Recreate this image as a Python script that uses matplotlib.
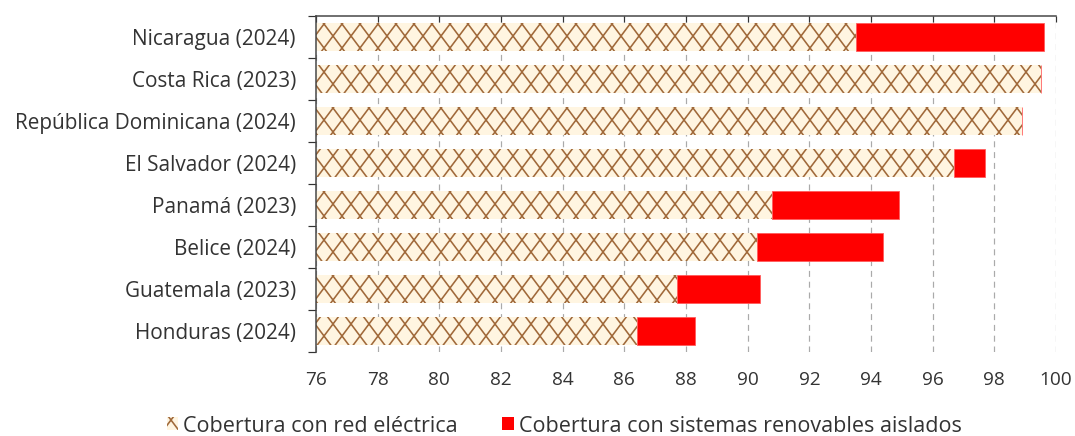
import matplotlib
matplotlib.use('Agg')
import matplotlib.pyplot as plt
import matplotlib.hatch as mhatch
from matplotlib.path import Path
from matplotlib.patches import Patch
import numpy as np

paises = ['Nicaragua (2024)', 'Costa Rica (2023)', 'República Dominicana (2024)',
          'El Salvador (2024)', 'Panamá (2023)', 'Belice (2024)',
          'Guatemala (2023)', 'Honduras (2024)']
red_electrica = [93.5, 99.5, 98.9, 96.7, 90.8, 90.3, 87.7, 86.4]
renovables_aislados = [6.1, 0.0, 0.0, 1.0, 4.1, 4.1, 2.7, 1.9]
xticks = list(range(76, 101, 2))


# rombos algo mas altos que anchos (patron tipo Excel); reemplaza a la 'x' estandar
class RomboHatch(mhatch.HatchPatternBase):
    def __init__(self, hatch, density):
        self.on = hatch.count('x') > 0
        self.offsets = np.arange(-0.75, 1.01, 0.25)
        self.num_vertices = len(self.offsets) * 4 if self.on else 0

    def set_vertices_and_codes(self, vertices, codes):
        v = []
        for x0 in self.offsets:
            v += [(x0, 0.0), (x0 + 0.75, 1.0), (x0, 1.0), (x0 + 0.75, 0.0)]
        vertices[:] = np.array(v)
        codes[0::2] = Path.MOVETO
        codes[1::2] = Path.LINETO


mhatch._hatch_types = [t for t in mhatch._hatch_types
                       if t not in (mhatch.NorthEastHatch, mhatch.SouthEastHatch)] + [RomboHatch]

plt.rcParams['font.family'] = ['Open Sans', 'DejaVu Sans']
plt.rcParams['hatch.linewidth'] = 1.6

fig = plt.figure(figsize=(1075 / 72, 436 / 72), dpi=72)
ax = fig.add_axes([316 / 1075, 1 - 352 / 436, 740 / 1075, 336 / 436])

y = np.arange(len(paises))
ax.barh(y, red_electrica, height=0.65, color='#FFF5E1', edgecolor='#A0693A',
        linewidth=0, hatch='x', zorder=2)
ax.barh(y, renovables_aislados, left=red_electrica, height=0.65, color='#FF0000',
        edgecolor='#FF5A5A', linewidth=0.8, zorder=2)

ax.set_xlim(76, 100)
ax.set_ylim(len(paises) - 0.5, -0.5)
ax.set_xticks(xticks)
ax.set_xticklabels([str(t) for t in xticks], fontsize=19, color='#333333')
ax.tick_params(axis='x', top=True, bottom=False, labeltop=False, labelbottom=True,
               direction='in', length=6, width=1.2, color='#333333', pad=19)

ax.set_yticks(y)
ax.set_yticklabels(paises, fontsize=20.8, color='#333333')
ax.set_yticks(np.arange(-0.5, len(paises)), minor=True)
ax.tick_params(axis='y', which='major', length=0, pad=20)
ax.tick_params(axis='y', which='minor', length=8, width=1.2, color='#333333', direction='out')

ax.grid(axis='x', color='#AAAAAA', linestyle=(0, (5, 4)), linewidth=1.2, zorder=0)
ax.set_axisbelow(True)

for s in ['right', 'bottom']:
    ax.spines[s].set_visible(False)
for s in ['top', 'left']:
    ax.spines[s].set_color('#444444')
    ax.spines[s].set_linewidth(1.5)

handles = [Patch(facecolor='#FFF5E1', edgecolor='#A0693A', linewidth=0, hatch='x'),
           Patch(facecolor='#FF0000')]
fig.legend(handles, ['Cobertura con red eléctrica', 'Cobertura con sistemas renovables aislados'],
           loc='center', bbox_to_anchor=(564 / 1075, 1 - 426 / 436), ncol=2, frameon=False,
           fontsize=21.5, handlelength=0.55, handleheight=0.55, handletextpad=0.2,
           columnspacing=2.1, labelcolor='#333333')

fig.savefig('out.png', dpi=72)
